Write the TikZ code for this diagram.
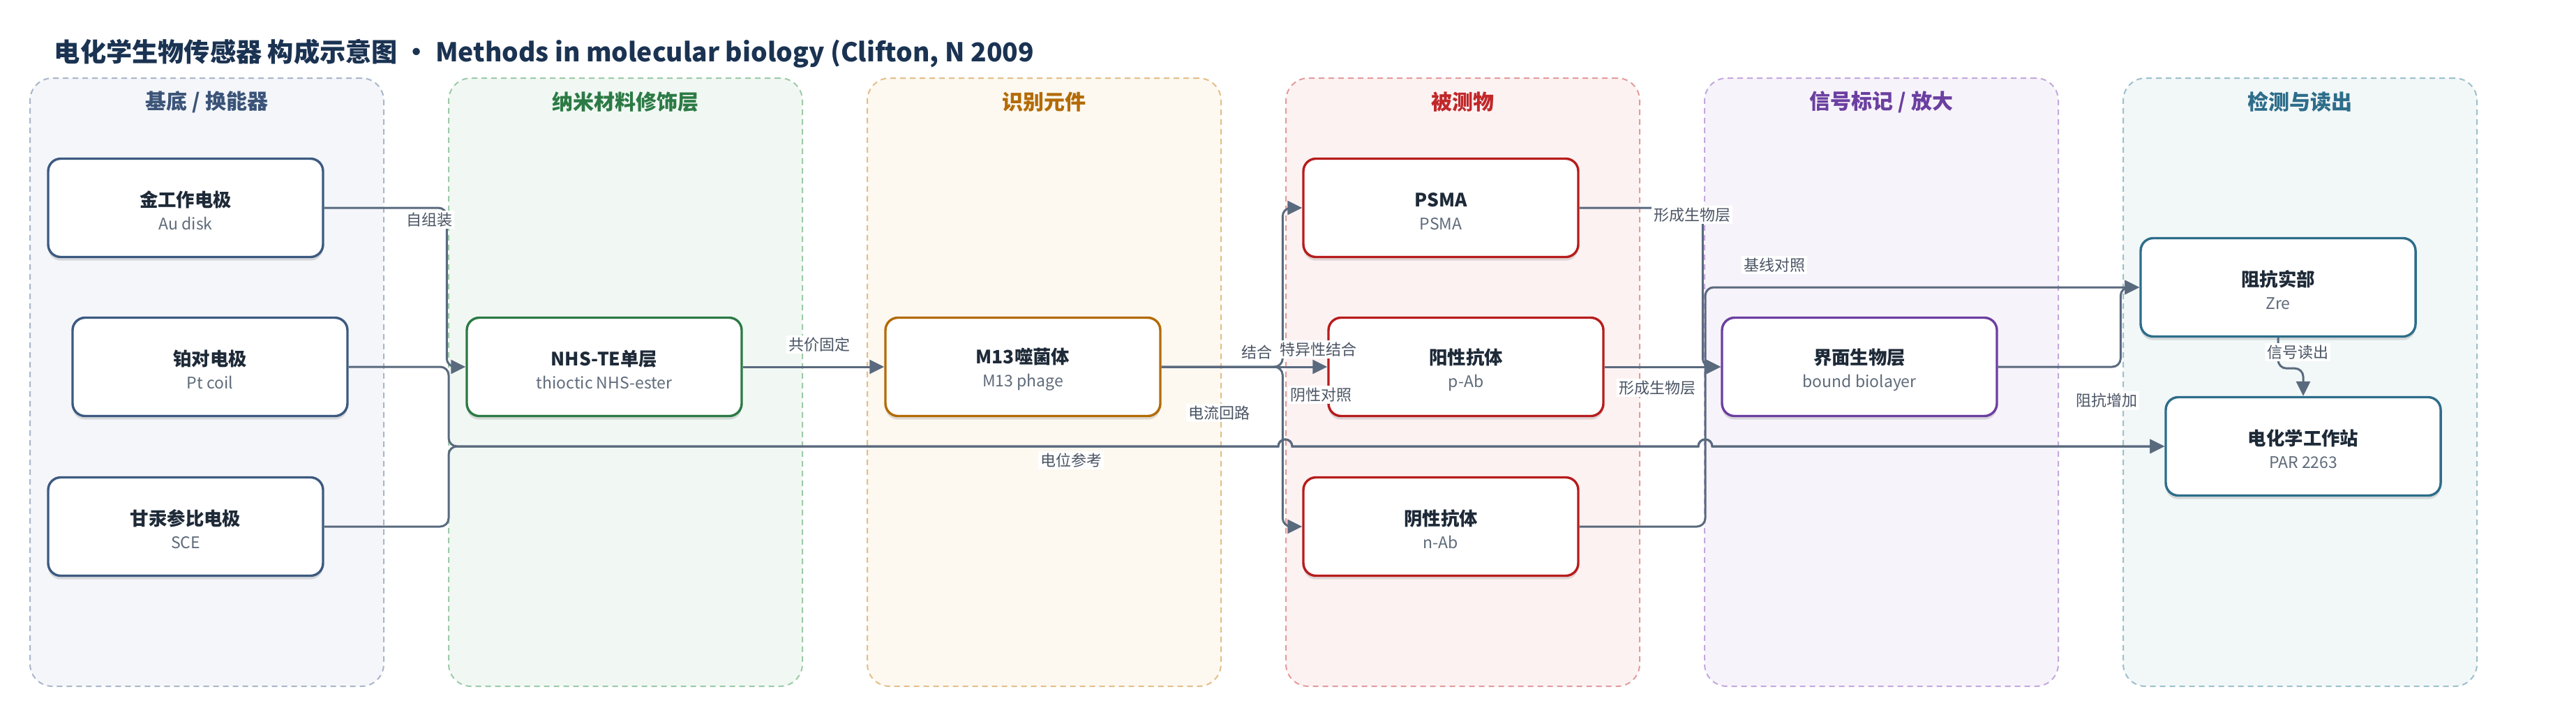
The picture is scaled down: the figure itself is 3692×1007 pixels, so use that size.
\documentclass[tikz,border=0pt]{standalone}
\usepackage{fontspec}
\setmainfont{Noto Sans CJK SC}
\usetikzlibrary{positioning, arrows.meta, shadows}

\definecolor{heading}{HTML}{1B3352}
\definecolor{ink}{HTML}{1E2A38}
\definecolor{subtext}{HTML}{5F6B7A}
\definecolor{conn}{HTML}{5A6A7E}
\definecolor{conntext}{HTML}{4A5464}
\definecolor{subfill}{HTML}{F4F6FA}
\definecolor{subdraw}{HTML}{A9B6C9}
\definecolor{subtitle}{HTML}{3B5478}
\definecolor{subnode}{HTML}{3C5A80}
\definecolor{nanofill}{HTML}{F1F8F3}
\definecolor{nanodraw}{HTML}{9CCAA8}
\definecolor{nanotitle}{HTML}{2C7A45}
\definecolor{recfill}{HTML}{FDF8F0}
\definecolor{recdraw}{HTML}{E2BF88}
\definecolor{rectitle}{HTML}{B36B05}
\definecolor{anafill}{HTML}{FDF2F2}
\definecolor{anadraw}{HTML}{E39B9B}
\definecolor{anatitle}{HTML}{C0282A}
\definecolor{anynode}{HTML}{B71C1C}
\definecolor{sigfill}{HTML}{F7F3FB}
\definecolor{sigdraw}{HTML}{C3A8DD}
\definecolor{sigtitle}{HTML}{6B3FA0}
\definecolor{detfill}{HTML}{F2F7F8}
\definecolor{detdraw}{HTML}{9CC0CC}
\definecolor{dettitle}{HTML}{2D6D8A}

\newcommand{\boxtext}[2]{\rule{0pt}{7.6pt}{\bfseries\fontsize{6.6}{8.25}\selectfont\color{ink}#1}\\{\color{subtext}#2}}

\begin{document}
\begin{tikzpicture}[x = 0.25pt, y = -0.25pt,
		lane/.style={rectangle, rounded corners = 8pt, line width = 0.5pt, dash pattern = on 2pt off 1.5pt, minimum width = 126.75pt, minimum height = 218pt},
		lanetitle/.style={font = \bfseries\fontsize{7.5}{9}\selectfont},
		block/.style={rectangle, draw, rounded corners = 4.5pt, line width = 0.85pt, fill = white, minimum width = 98.5pt, minimum height = 35.25pt, align = center, font = \fontsize{5.75}{8.25}\selectfont, drop shadow = {shadow xshift = 0pt, shadow yshift = -1.3pt, opacity = 0.12, fill = black}},
		arrow/.style={-{Triangle[length = 5.25pt, width = 5pt]}, draw = conn, line width = 0.75pt, rounded corners = 3pt},
		edgetext/.style={fill = white, inner sep = 0.8pt, text = conntext, font = \fontsize{5.5}{6.5}\selectfont}
	]
	\useasboundingbox (0, 0) rectangle (3692, 1007);
	
	\node[anchor = base west, text = heading, font = \bfseries\fontsize{9.3}{11}\selectfont, inner sep = 0pt] (title) at (77, 88) {电化学生物传感器 构成示意图 · Methods in molecular biology (Clifton, N 2009};
	
	\foreach \i/\fc/\dc/\tc/\ttl in {0/subfill/subdraw/subtitle/{基底 / 换能器}, 1/nanofill/nanodraw/nanotitle/{纳米材料修饰层}, 2/recfill/recdraw/rectitle/{识别元件}, 3/anafill/anadraw/anatitle/{被测物}, 4/sigfill/sigdraw/sigtitle/{信号标记 / 放大}, 5/detfill/detdraw/dettitle/{检测与读出}} {
		\node[lane, fill = \fc, draw = \dc] (lane\i) at ({296.5 + 600*\i}, 548) {};
		\node[lanetitle, text = \tc] at ({296.5 + 600*\i}, 146) {\ttl};
	}
	
	\node[block, draw = subnode] (au) at (266, 298) {\boxtext{金工作电极}{Au disk}};
	\node[block, draw = subnode] (pt) at (301, 526) {\boxtext{铂对电极}{Pt coil}};
	\node[block, draw = subnode] (sce) at (266, 755) {\boxtext{甘汞参比电极}{SCE}};
	
	\node[block, draw = nanotitle] (nhs) at (866, 526) {\boxtext{NHS-TE单层}{thioctic NHS-ester}};
	
	\node[block, draw = rectitle] (m13) at (1466, 526) {\boxtext{M13噬菌体}{M13 phage}};
	
	\node[block, draw = anynode] (psma) at (2065, 298) {\boxtext{PSMA}{PSMA}};
	\node[block, draw = anynode] (pab) at (2101, 526) {\boxtext{阳性抗体}{p-Ab}};
	\node[block, draw = anynode] (nab) at (2065, 755) {\boxtext{阴性抗体}{n-Ab}};
	
	\node[block, draw = sigtitle] (layer) at (2665, 526) {\boxtext{界面生物层}{bound biolayer}};
	
	\node[block, draw = dettitle] (zre) at (3265, 412) {\boxtext{阻抗实部}{Zre}};
	\node[block, draw = dettitle] (ws) at (3301, 640) {\boxtext{电化学工作站}{PAR 2263}};
	
	\coordinate (mix) at (643, 640);
	\coordinate (hopa) at (1842, 640);
	\coordinate (hopb) at (2444, 640);
	\coordinate (base) at (2444, 412);
	
	\draw[arrow] (au.east) -| ([xshift = -6.75pt]nhs.west) -- (nhs.west);
	\draw[arrow] (pt.east) -| (mix) -- (1500, 640) [sharp corners] -- ([xshift = -2.5pt]hopa) arc[start angle = 180, end angle = 0, radius = 2.5pt] -- ([xshift = -2.5pt]hopb) arc[start angle = 180, end angle = 0, radius = 2.5pt] -- (ws.west);
	\draw[arrow] (sce.east) -| (mix) -- (1500, 640) [sharp corners] -- ([xshift = -2.5pt]hopa) arc[start angle = 180, end angle = 0, radius = 2.5pt] -- ([xshift = -2.5pt]hopb) arc[start angle = 180, end angle = 0, radius = 2.5pt] -- (ws.west);
	\draw[arrow] (nhs) -- (m13);
	\draw[arrow] (m13.east) -| ([xshift = -7pt]psma.west) -- (psma.west);
	\draw[arrow] (m13.east) -- (pab.west);
	\draw[arrow] (m13.east) -| ([xshift = -7pt]nab.west) -- (nab.west);
	\draw[arrow] (psma.east) -| ([xshift = -6.5pt]layer.west) -- (layer.west);
	\draw[arrow] (pab.east) -- (layer.west);
	\draw[arrow] (nab.east) -| (base) -- (zre.west);
	\draw[arrow] (layer.east) -| ([xshift = -6.75pt]zre.west) -- (zre.west);
	\draw[arrow] (zre.south) -- ++(0, 44) -| (ws.north);
	
	\node[edgetext] at (615, 315) {自组装};
	\node[edgetext] at (1747, 592) {电流回路};
	\node[edgetext] at (1535, 660) {电位参考};
	\node[edgetext] at (1174, 494) {共价固定};
	\node[edgetext] at (1801, 505) {结合};
	\node[edgetext] at (1889, 501) {特异性结合};
	\node[edgetext] at (1893, 566) {阴性对照};
	\node[edgetext] at (2425, 308) {形成生物层};
	\node[edgetext] at (2375, 556) {形成生物层};
	\node[edgetext] at (2543, 380) {基线对照};
	\node[edgetext] at (3019, 574) {阻抗增加};
	\node[edgetext] at (3293, 505) {信号读出};
	
\end{tikzpicture}
\end{document}
